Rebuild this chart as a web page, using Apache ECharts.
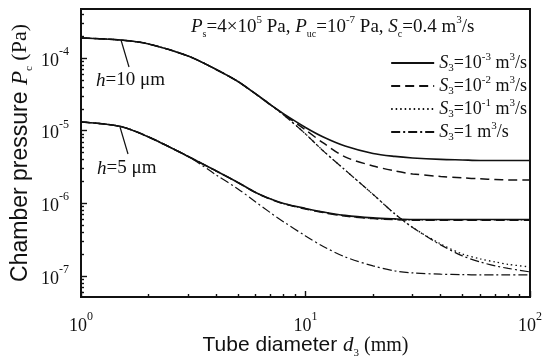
<!DOCTYPE html>
<html>
<head>
<meta charset="utf-8">
<script src="https://cdn.jsdelivr.net/npm/echarts@6/dist/echarts.min.js"></script>
<style>
  html, body { margin: 0; padding: 0; background: #fff; }
  #container { width: 557px; height: 359px; }
</style>
</head>
<body>
<div id="container"></div>
<script>
// tube diameter d3 (mm)
const diameters = [1, 1.5, 2, 3, 4, 5, 6, 7, 8, 10, 12, 15, 20, 25, 30, 40, 50, 60, 70, 80, 100];

// chamber pressure (Pa), h = 10 um
const h10S1e3 = [1.884e-4, 1.768e-4, 1.558e-4, 1.065e-4, 6.95e-5, 4.75e-5, 3.20e-5, 2.26e-5, 1.70e-5, 1.107e-5, 8.19e-6, 6.16e-6, 4.86e-6, 4.42e-6, 4.21e-6, 4.02e-6, 3.95e-6, 3.89e-6, 3.89e-6, 3.89e-6, 3.89e-6];
const h10S1e2 = [1.884e-4, 1.768e-4, 1.558e-4, 1.065e-4, 6.95e-5, 4.75e-5, 3.20e-5, 2.26e-5, 1.67e-5, 1.022e-5, 6.77e-6, 4.35e-6, 3.27e-6, 2.79e-6, 2.54e-6, 2.34e-6, 2.24e-6, 2.17e-6, 2.13e-6, 2.10e-6, 2.10e-6];
const h10S1e1 = [1.884e-4, 1.768e-4, 1.558e-4, 1.065e-4, 6.95e-5, 4.75e-5, 3.20e-5, 2.26e-5, 1.644e-5, 9.01e-6, 5.26e-6, 2.88e-6, 1.326e-6, 7.15e-7, 4.66e-7, 2.76e-7, 2.01e-7, 1.72e-7, 1.56e-7, 1.444e-7, 1.334e-7];
const h10S1 = [1.884e-4, 1.768e-4, 1.558e-4, 1.065e-4, 6.95e-5, 4.75e-5, 3.20e-5, 2.26e-5, 1.644e-5, 9.01e-6, 5.26e-6, 2.88e-6, 1.326e-6, 7.15e-7, 4.66e-7, 2.68e-7, 1.89e-7, 1.56e-7, 1.377e-7, 1.272e-7, 1.138e-7];

// chamber pressure (Pa), h = 5 um
const h5S1e3 = [1.317e-5, 1.142e-5, 8.19e-6, 4.42e-6, 2.79e-6, 1.938e-6, 1.412e-6, 1.149e-6, 9.97e-7, 8.51e-7, 7.61e-7, 6.82e-7, 6.30e-7, 6.10e-7, 6.00e-7, 6.00e-7, 6.00e-7, 6.00e-7, 6.00e-7, 6.00e-7, 6.00e-7];
const h5S1e2 = [1.317e-5, 1.142e-5, 8.19e-6, 4.42e-6, 2.79e-6, 1.93e-6, 1.40e-6, 1.135e-6, 9.85e-7, 8.36e-7, 7.45e-7, 6.67e-7, 6.16e-7, 5.96e-7, 5.87e-7, 5.87e-7, 5.87e-7, 5.87e-7, 5.87e-7, 5.87e-7, 5.87e-7];
const h5S1e1 = [1.317e-5, 1.142e-5, 8.19e-6, 4.42e-6, 2.79e-6, 1.934e-6, 1.405e-6, 1.142e-6, 9.9e-7, 8.43e-7, 7.53e-7, 6.74e-7, 6.22e-7, 6.02e-7, 5.93e-7, 5.93e-7, 5.93e-7, 5.93e-7, 5.93e-7, 5.93e-7, 5.93e-7];
const h5S1 = [1.317e-5, 1.142e-5, 8.19e-6, 4.42e-6, 2.46e-6, 1.578e-6, 1.045e-6, 7.38e-7, 5.55e-7, 3.56e-7, 2.55e-7, 1.83e-7, 1.377e-7, 1.175e-7, 1.103e-7, 1.059e-7, 1.045e-7, 1.035e-7, 1.035e-7, 1.035e-7, 1.035e-7];

// legend entries (S3 pumping speed), exponent shown as 10^x
const legendNames = ['S3=1e-3', 'S3=1e-2', 'S3=1e-1', 'S3=1'];
const legendExp = ['-3', '-2', '-1', null];

// tick labels
const xTicks = [1, 10, 100];
const yTicks = [1e-7, 1e-6, 1e-5, 1e-4];

const xMin = 1, xMax = 100;
const yMin = 5.14e-8, yMax = 4.72e-4;

// tick positions in decade units (for the tick-only axes)
function minorExps(lo, hi) {
  const out = [];
  for (let e = -9; e <= 3; e++) {
    for (let k = 2; k <= 9; k++) {
      const v = k * Math.pow(10, e);
      if (v > lo && v < hi) out.push(Math.log10(v));
    }
  }
  return out;
}
const majorExps = arr => arr.map(v => Math.log10(v));

const serif = '"Liberation Serif", "DejaVu Serif", serif';
const sans = '"Liberation Sans", Arial, sans-serif';
const ink = '#111';

const powRich = {
  b: { fontFamily: serif, fontSize: 18, color: ink, verticalAlign: 'bottom', lineHeight: 24 },
  s: { fontFamily: serif, fontSize: 12, color: ink, verticalAlign: 'top', lineHeight: 24 }
};
const powLabel = v => '{b|10}{s|' + Math.round(Math.log10(v)) + '}';

function titleRich(size) {
  return {
    a: { fontFamily: sans, fontSize: size, color: ink, lineHeight: size + 6, verticalAlign: 'middle' },
    p: { fontFamily: serif, fontStyle: 'italic', fontSize: size, color: ink, lineHeight: size + 6, verticalAlign: 'middle' },
    sub: { fontFamily: serif, fontSize: 11, color: ink, lineHeight: size + 6, verticalAlign: 'bottom' },
    b: { fontFamily: serif, fontSize: size - 1, color: ink, lineHeight: size + 6, verticalAlign: 'middle' }
  };
}

const styles = {
  'S3=1e-3': { type: 'solid', width: 1.6 },
  'S3=1e-2': { type: [9, 5], width: 1.5 },
  'S3=1e-1': { type: [1.5, 3], width: 1.3 },
  'S3=1': { type: [9, 3, 2, 3], width: 1.2 }
};

function mk(name, vals) {
  return {
    name: name,
    type: 'line',
    xAxisIndex: 0,
    yAxisIndex: 0,
    data: diameters.map((d, i) => [d, vals[i]]),
    showSymbol: false,
    symbol: 'none',
    smooth: 0.3,
    lineStyle: Object.assign({ color: ink }, styles[name]),
    itemStyle: { color: ink },
    emphasis: { disabled: true }
  };
}

function tickAxis(pos, lo, hi, values, len) {
  return {
    type: 'value', min: lo, max: hi, position: pos, offset: 0,
    axisLine: { show: false },
    axisTick: { show: true, inside: true, length: len, customValues: values, lineStyle: { color: ink, width: 1.4 } },
    axisLabel: { show: false },
    splitLine: { show: false }
  };
}

const chart = echarts.init(document.getElementById('container'), null, { renderer: 'canvas' });

const option = {
  animation: false,
  grid: {
    left: 81, right: 27, top: 9, bottom: 62,
    outerBoundsMode: 'none', containLabel: false,
    show: true, borderColor: ink, borderWidth: 2, backgroundColor: 'transparent'
  },
  legend: {
    data: legendNames,
    orient: 'vertical',
    right: 25,
    top: 47,
    align: 'left',
    itemWidth: 43,
    itemHeight: 10,
    itemGap: 1,
    itemStyle: { opacity: 0 },
    formatter: function (name) {
      const i = legendNames.indexOf(name);
      const e = legendExp[i];
      if (e === null) return '{i|S}{sub|3}{t|=1 m}{sup|3}{t|/s}';
      return '{i|S}{sub|3}{t|=10}{sup|' + e + '}{t| m}{sup|3}{t|/s}';
    },
    textStyle: {
      rich: {
        i: { fontFamily: serif, fontStyle: 'italic', fontSize: 18, color: ink, lineHeight: 22, verticalAlign: 'middle' },
        t: { fontFamily: serif, fontSize: 18, color: ink, lineHeight: 22, verticalAlign: 'middle' },
        sup: { fontFamily: serif, fontSize: 11, color: ink, lineHeight: 22, verticalAlign: 'top' },
        sub: { fontFamily: serif, fontSize: 11, color: ink, lineHeight: 22, verticalAlign: 'bottom' }
      }
    }
  },
  xAxis: [
    {
      type: 'log', min: xMin, max: xMax, position: 'bottom',
      axisLine: { show: true, lineStyle: { color: ink, width: 2 } },
      axisTick: { show: false },
      axisLabel: { customValues: xTicks, formatter: powLabel, rich: powRich, margin: 14 },
      splitLine: { show: false },
      name: '{a|Tube diameter }{p|d}{sub|3}{b| (mm)}',
      nameLocation: 'middle',
      nameMoveOverlap: false,
      nameGap: 35,
      nameTextStyle: { rich: titleRich(21) }
    },
    tickAxis('bottom', Math.log10(xMin), Math.log10(xMax), majorExps(xTicks), 6),
    tickAxis('bottom', Math.log10(xMin), Math.log10(xMax), minorExps(xMin, xMax), 3)
  ],
  yAxis: [
    {
      type: 'log', min: yMin, max: yMax, position: 'left',
      axisLine: { show: true, lineStyle: { color: ink, width: 2 } },
      axisTick: { show: false },
      axisLabel: { customValues: yTicks, formatter: powLabel, rich: powRich, margin: 12 },
      splitLine: { show: false },
      name: '{a|Chamber pressure }{p|P}{sub|c}{b| (Pa)}',
      nameLocation: 'middle',
      nameMoveOverlap: false,
      nameRotate: 90,
      nameGap: 46,
      nameTextStyle: { rich: titleRich(23) }
    },
    tickAxis('left', Math.log10(yMin), Math.log10(yMax), majorExps(yTicks), 6),
    tickAxis('left', Math.log10(yMin), Math.log10(yMax), minorExps(yMin, yMax), 3)
  ],
  series: [
    mk('S3=1e-3', h10S1e3),
    mk('S3=1e-2', h10S1e2),
    mk('S3=1e-1', h10S1e1),
    mk('S3=1', h10S1),
    mk('S3=1e-3', h5S1e3),
    mk('S3=1e-2', h5S1e2),
    mk('S3=1e-1', h5S1e1),
    mk('S3=1', h5S1)
  ],
  graphic: [
    {
      type: 'text', left: 191, top: 15,
      style: {
        text: '{i|P}{sub|s}{t|=4×10}{sup|5}{t| Pa, }{i|P}{sub|uc}{t|=10}{sup|-7}{t| Pa, }{i|S}{sub|c}{t|=0.4 m}{sup|3}{t|/s}',
        rich: {
          i: { fontFamily: serif, fontStyle: 'italic', fontSize: 19, fill: ink, lineHeight: 24, verticalAlign: 'middle' },
          t: { fontFamily: serif, fontSize: 19, fill: ink, lineHeight: 24, verticalAlign: 'middle' },
          sup: { fontFamily: serif, fontSize: 11, fill: ink, lineHeight: 24, verticalAlign: 'top' },
          sub: { fontFamily: serif, fontSize: 10, fill: ink, lineHeight: 24, verticalAlign: 'bottom' }
        }
      }
    },
    {
      type: 'text', left: 96, top: 71,
      style: {
        text: '{i|h}{t|=10 μm}',
        rich: {
          i: { fontFamily: serif, fontStyle: 'italic', fontSize: 19, fill: ink },
          t: { fontFamily: serif, fontSize: 19, fill: ink }
        }
      }
    },
    {
      type: 'text', left: 97, top: 159,
      style: {
        text: '{i|h}{t|=5 μm}',
        rich: {
          i: { fontFamily: serif, fontStyle: 'italic', fontSize: 19, fill: ink },
          t: { fontFamily: serif, fontSize: 19, fill: ink }
        }
      }
    },
    { type: 'line', shape: { x1: 121, y1: 40, x2: 129, y2: 67 }, style: { stroke: ink, lineWidth: 1.2 } },
    { type: 'line', shape: { x1: 120, y1: 127, x2: 128, y2: 154 }, style: { stroke: ink, lineWidth: 1.2 } }
  ]
};

chart.setOption(option);
</script>
</body>
</html>
